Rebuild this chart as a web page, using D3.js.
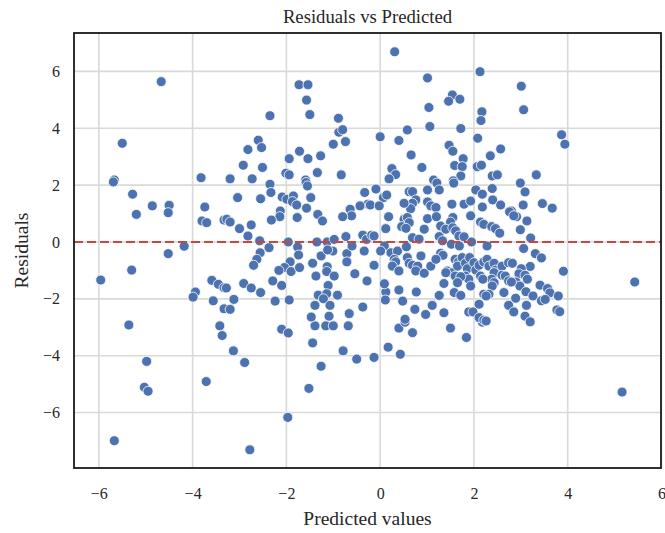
<!DOCTYPE html>
<html><head><meta charset="utf-8">
<script src="https://cdn.jsdelivr.net/npm/d3@7"></script>
<style>body{margin:0;background:#fff}</style>
</head><body><svg id="c" width="665" height="533"></svg>
<script>
const xTicks=[-6,-4,-2,0,2,4,6];
const yTicks=[-6,-4,-2,0,2,4,6];
const predicted=[
-5.96,-5.67,-5.67,-5.69,-5.50,-4.67,-3.82,-5.28,-4.86,-4.50,-4.52,-5.20,-3.74,-3.80,-3.70,-3.33,-4.18,-4.52,-5.30,-3.59,-3.45,-3.33,-3.94,-3.99,-3.56,-3.33,-5.36,-3.42,-3.37,-4.98,-3.71,-5.03,-4.95,
-1.73,-1.54,-1.57,-1.50,-2.35,-0.89,-0.88,-0.80,-0.74,-1.00,-2.60,-2.82,-2.53,-1.72,-1.94,-1.54,-1.27,-2.92,-2.51,-3.20,-2.73,-2.01,-1.94,-1.34,-0.83,-1.59,
0.31,2.13,1.01,1.54,1.46,1.70,1.04,2.17,2.15,1.06,1.72,0.58,0.00,0.40,2.08,1.47,1.55,1.77,2.57,2.35,0.66,0.89,1.59,1.75,2.07,2.16,0.25,0.33,0.19,1.72,2.39,2.50,1.14,1.56,
3.01,3.06,3.87,3.94,3.33,
2.99,3.09,3.05,3.46,3.67,2.91,2.80,3.13,2.99,3.21,3.06,3.31,3.44,3.91,5.43,3.20,3.01,2.96,3.09,3.14,2.90,2.98,3.41,3.57,3.62,3.11,3.80,2.89,3.26,3.44,3.52,3.12,2.84,3.77,3.83,3.09,3.20,5.16,
0.40,0.53,0.69,1.50,1.84,0.17,-0.13,0.43,2.18,
-2.10,-1.96,-1.39,-1.16,-1.00,-0.68,-1.44,-0.79,-0.50,-3.13,-2.89,-1.26,-1.52,-1.97,-2.78,
-2.35,-1.58,-1.55,-3.04,-2.55,-2.33,-2.09,-1.99,-1.85,-1.87,-1.78,-1.48,-1.57,-1.33,-1.23,-0.33,-0.26,-0.43,-0.64,-0.61,-0.80,-2.13,-2.14,-2.32,-1.77,-3.27,-3.20,-3.00,-2.75,-2.82,-2.57,-2.37,-1.96,-1.76,-1.74,-1.35,-1.13,-0.98,-0.73,-0.37,-0.29,-1.01,-0.71,-0.60,-0.34,-1.26,-1.12,-2.56,-2.63,-2.70,-1.92,-2.04,-2.16,-1.90,-1.72,-1.44,-1.13,-1.14,-0.98,-1.37,-0.71,-0.54,-0.28,-1.11,-2.29,-2.10,-2.91,-2.75,-2.55,-3.28,-3.12,-3.20,-2.24,-1.94,-1.32,-1.14,-0.91,-1.21,-1.39,-1.07,-0.37,-0.66,-1.47,-1.09,
1.21,1.57,-0.09,0.07,0.14,-0.21,-0.02,0.62,0.69,1.01,1.26,0.76,0.69,0.65,0.51,1.01,1.08,1.19,1.53,1.79,1.93,2.04,2.18,2.39,2.40,2.18,2.57,2.76,2.85,0.18,0.51,0.58,0.62,0.46,0.55,1.01,1.20,1.55,1.50,1.93,2.14,2.21,2.38,2.46,2.55,0.12,-0.18,-0.13,1.29,1.40,1.55,1.61,1.68,1.79,0.94,0.69,0.83,1.26,1.33,1.52,1.69,1.95,2.28,0.09,0.01,0.23,0.37,0.56,0.30,0.33,0.26,0.40,0.58,0.62,0.69,0.80,0.76,0.94,0.87,1.08,1.29,1.34,1.19,1.43,1.53,1.60,1.67,1.65,1.75,1.82,1.86,1.91,2.00,2.04,2.11,2.21,2.28,2.32,2.43,2.46,2.43,2.60,2.74,2.82,2.60,2.67,2.74,2.80,2.38,2.43,2.39,2.14,2.19,1.82,1.89,1.93,1.40,1.60,1.72,1.65,1.36,1.58,1.72,1.26,2.21,2.32,2.26,2.64,2.74,2.85,2.11,1.89,1.98,2.11,2.21,2.26,1.36,1.11,0.97,0.74,0.53,0.12,0.09,0.11,0.40,0.48,0.77,-0.13
];
const residuals=[
-1.34,-6.99,2.18,2.11,3.47,5.64,2.26,1.68,1.27,1.29,1.03,0.97,1.23,0.74,0.68,0.77,-0.15,-0.41,-0.99,-1.35,-1.49,-1.61,-1.76,-1.94,-2.07,-2.35,-2.92,-2.95,-3.29,-4.20,-4.91,-5.11,-5.25,
5.53,5.53,4.99,4.48,4.44,4.35,3.86,3.95,3.53,3.44,3.58,3.25,3.32,3.19,2.93,2.93,3.03,2.70,2.62,2.22,2.22,2.42,2.36,2.44,2.36,2.18,
6.69,5.99,5.77,5.17,4.95,5.02,4.73,4.58,4.27,4.06,3.99,3.94,3.70,3.57,3.65,3.40,3.19,2.93,3.27,3.03,3.06,2.62,2.69,2.65,2.65,2.70,2.58,2.37,2.22,2.32,2.32,2.36,2.18,2.15,
5.48,4.65,3.77,3.44,2.36,
2.07,1.76,1.30,1.35,1.19,0.89,1.09,0.74,0.43,0.14,-0.23,-0.41,-0.56,-1.03,-1.41,-0.86,-0.94,-1.12,-1.17,-1.31,-1.41,-1.55,-1.52,-1.64,-1.79,-1.75,-1.90,-1.98,-1.90,-2.07,-2.02,-2.23,-2.43,-2.39,-2.45,-2.61,-2.81,-5.28,
-3.03,-2.82,-3.19,-3.03,-3.36,-3.70,-4.06,-3.95,-2.82,
-3.07,-3.20,-2.95,-2.95,-2.95,-2.95,-3.55,-3.83,-4.12,-3.83,-4.24,-4.37,-5.15,-6.17,-7.31,
2.03,2.09,1.97,1.56,1.52,1.74,1.58,1.50,1.62,1.42,1.30,1.56,1.19,0.97,0.74,1.74,1.33,1.27,1.15,0.92,0.89,1.09,0.89,0.77,0.86,0.80,0.70,0.47,0.60,0.21,0.04,-0.20,0.00,-0.18,-0.46,0.00,0.00,0.09,0.19,0.24,0.09,-0.32,-0.41,-0.14,-0.32,-0.49,-0.28,-0.38,-0.61,-0.82,-0.70,-0.90,-1.00,-1.04,-0.90,-0.75,-0.87,-1.04,-1.20,-1.20,-0.70,-1.12,-1.37,-1.53,-1.37,-1.53,-1.46,-1.62,-1.78,-1.62,-2.02,-2.37,-2.08,-2.04,-1.87,-1.82,-1.87,-2.00,-2.23,-2.23,-2.29,-2.52,-2.64,-2.61,
2.07,2.07,1.86,1.56,1.65,1.30,1.27,1.77,1.77,1.83,1.83,1.48,1.36,1.17,1.36,1.41,1.27,1.21,1.33,1.33,1.44,1.83,1.68,1.88,1.48,1.23,1.30,1.06,0.92,0.89,0.80,0.86,0.68,0.54,0.48,0.82,0.89,0.86,0.70,0.92,0.70,0.62,0.54,0.47,0.31,0.47,0.24,0.21,0.56,0.45,0.50,0.39,0.21,0.18,0.45,0.15,0.10,0.19,0.04,-0.08,-0.14,0.00,-0.14,-0.14,-0.32,-0.38,-0.32,-0.17,-0.61,-0.70,-0.85,-1.02,-0.55,-0.75,-0.82,-0.85,-1.02,-1.10,-0.49,-0.85,-0.40,-0.47,-0.61,-1.02,-1.08,-0.61,-0.70,-0.85,-0.55,-0.75,-0.94,-0.55,-0.73,-0.99,-0.82,-0.70,-0.61,-0.85,-0.75,-0.99,-1.08,-0.85,-0.73,-0.75,-1.17,-1.20,-1.37,-1.41,-1.31,-1.43,-1.55,-1.20,-1.31,-1.20,-1.31,-1.55,-1.08,-1.20,-1.22,-1.43,-1.46,-1.78,-1.88,-1.88,-1.84,-1.84,-1.90,-1.78,-2.23,-2.46,-2.19,-2.46,-2.46,-2.66,-2.75,-2.78,-2.49,-2.23,-2.55,-2.37,-2.72,-1.76,-1.47,-2.04,-1.69,-2.08,-1.76,-0.82
];
const svg=d3.select("#c");
const L=74,R=661,T=33,B=468;
const x=d3.scaleLinear().domain([-6.53,5.99]).range([L,R]);
const y=d3.scaleLinear().domain([-7.95,7.35]).range([B,T]);
const font="'Liberation Serif','Times New Roman',serif";
// grid
svg.append("g").selectAll("line").data(xTicks).join("line")
 .attr("x1",d=>x(d)).attr("x2",d=>x(d)).attr("y1",T).attr("y2",B)
 .attr("stroke","#d9d9d9").attr("stroke-width",1.6);
svg.append("g").selectAll("line").data(yTicks).join("line")
 .attr("y1",d=>y(d)).attr("y2",d=>y(d)).attr("x1",L).attr("x2",R)
 .attr("stroke","#d9d9d9").attr("stroke-width",1.6);
// points
const pts=predicted.map((p,i)=>[p,residuals[i]]);
svg.append("g").selectAll("circle").data(pts).join("circle")
 .attr("cx",d=>x(d[0])).attr("cy",d=>y(d[1])).attr("r",5)
 .attr("fill","#4c72b0").attr("stroke","#fff").attr("stroke-width",0.8);
// zero line
svg.append("line").attr("x1",L).attr("x2",R).attr("y1",y(0)).attr("y2",y(0))
 .attr("stroke","#d0443e").attr("stroke-width",2).attr("stroke-dasharray","9,4");
// frame
svg.append("rect").attr("x",L).attr("y",T).attr("width",R-L).attr("height",B-T)
 .attr("fill","none").attr("stroke","#1a1a1a").attr("stroke-width",1.8);
// axes
const fmt=d=>d<0?"\u2212"+Math.abs(d):String(d);
const xa=svg.append("g").attr("transform",`translate(0,${B})`)
 .call(d3.axisBottom(x).tickValues(xTicks).tickFormat(fmt).tickSize(0).tickPadding(20));
const ya=svg.append("g").attr("transform",`translate(${L},0)`)
 .call(d3.axisLeft(y).tickValues(yTicks).tickFormat(fmt).tickSize(0).tickPadding(14));
[xa,ya].forEach(a=>{a.select(".domain").remove();a.selectAll("text").attr("font-family",font).attr("font-size",16).attr("fill","#262626");});
svg.append("text").attr("x",(L+R)/2).attr("y",23).attr("text-anchor","middle")
 .attr("font-family",font).attr("font-size",18.7).attr("fill","#262626").text("Residuals vs Predicted");
svg.append("text").attr("x",(L+R)/2).attr("y",525).attr("text-anchor","middle")
 .attr("font-family",font).attr("font-size",19.5).attr("fill","#262626").text("Predicted values");
svg.append("text").attr("transform",`translate(28,${(T+B)/2}) rotate(-90)`).attr("text-anchor","middle")
 .attr("font-family",font).attr("font-size",19.5).attr("fill","#262626").text("Residuals");
</script></body></html>
